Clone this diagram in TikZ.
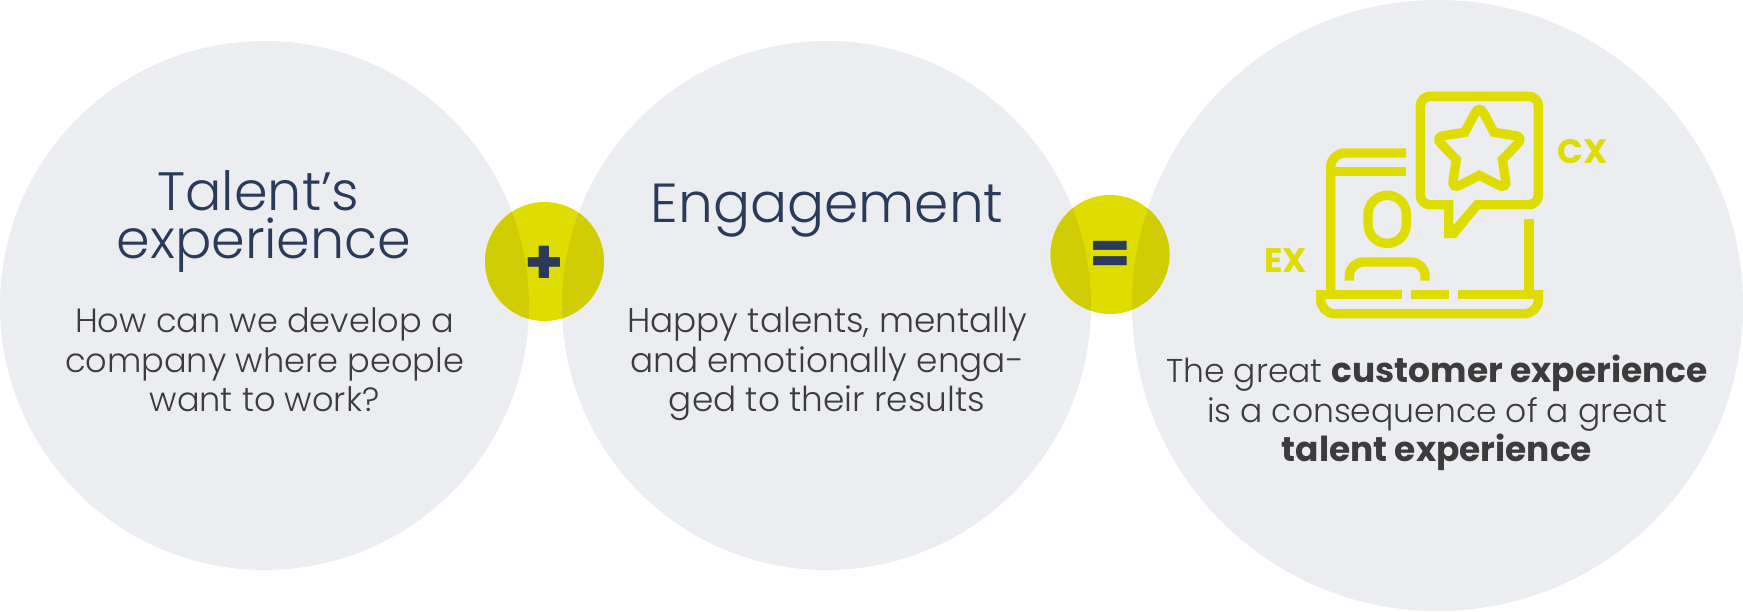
\documentclass[tikz,border=0pt]{standalone}
\usepackage{fontspec}
\setmainfont{Poppins}[UprightFont=* Light,BoldFont=* Bold]
\newfontfamily\boldface{Poppins}[UprightFont=* Bold]
\definecolor{discgray}{HTML}{EBEDF1}
\definecolor{lime}{HTML}{DFDD00}
\definecolor{limedark}{HTML}{D0CD05}
\definecolor{navy}{HTML}{2A3A5A}
\definecolor{bodygray}{HTML}{3C3C3C}
\newcommand{\strongtext}[1]{{\bfseries\fontsize{17.2}{19.6}\selectfont #1}}
\tikzset{
  disc/.style={circle,fill=discgray,inner sep=0pt,minimum size=#1},
  heading/.style={text=navy,align=center,inner sep=0pt,anchor=base,font=\fontsize{#1}{23.67}\selectfont},
  bodytext/.style={text=bodygray,align=center,inner sep=0pt,anchor=base,font=\fontsize{#1}{19.8}\selectfont},
  tag/.style={text=lime,inner sep=0pt,font=\boldface\fontsize{17}{17}\selectfont},
  sign/.style={text=navy,inner sep=0pt,font=\boldface\fontsize{#1}{#1}\selectfont},
  iconline/.style={draw=lime,line width=4.67pt,line cap=butt,line join=miter},
}
\begin{document}
\begin{tikzpicture}[x=0.5pt,y=-0.5pt]
\useasboundingbox (0,0) rectangle (1743,611);
\node[disc=264.5pt] (left) at (264.5,305.5) {};
\node[disc=264.5pt] (mid) at (826.5,305.5) {};
\node[disc=305.5pt] (right) at (1437.5,305.5) {};
% joining discs
\fill[lime] (544.5,261.5) circle (29.75pt);
\fill[lime] (1110,254.5) circle (29.75pt);
\begin{scope}
  \clip (544.5,261.5) circle (29.75pt);
  \fill[limedark] (264.5,305.5) circle (132.25pt);
  \fill[limedark] (826.5,305.5) circle (132.25pt);
\end{scope}
\begin{scope}
  \clip (1110,254.5) circle (29.75pt);
  \fill[limedark] (826.5,305.5) circle (132.25pt);
  \fill[limedark] (1437.5,305.5) circle (152.75pt);
\end{scope}
\node[sign=31.6] (plus) at (544.5,265) {+};
\node[sign=30] (equals) at (1110,258) {=};
% texts
\node[heading=27] (t1) at (264,258.3) {Talent’s\hspace*{5.6pt}\\experience};
\node[heading=27.5] (t2) at (827,222.3) {Engagement};
\node[bodytext=16.8] (b1) at (264.5,411.7) {How can we develop a\\company where people\\want to work?};
\node[bodytext=17.15] (b2) at (827,411.7) {Happy talents, mentally\\and emotionally enga-\\ged to their results};
\node[bodytext=16.5] (b3) at (1437,461.7) {The great \strongtext{customer experience}\\is a consequence of a great\\\strongtext{talent experience}};
\node[tag] (ex) at (1285.5,260.5) {EX};
\node[tag] (cx) at (1583,151.5) {CX};
% icon (units: zoomed reference pixels)
\begin{scope}[shift={(1240,70)},x=0.16667pt,y=-0.16667pt]
  \fill[lime,even odd rule]
    (612,504) -- (612,418) [rounded corners=7pt] -- (527,418) -- (527,65) -- (909,65) -- (909,418) [sharp corners] -- (718,418) -- (648,504) -- cycle
    (640,466) -- (640,390) [rounded corners=2.5pt] -- (555,390) -- (555,93) -- (881,93) -- (881,390) [sharp corners] -- (705,390) -- cycle;
  \draw[iconline] (762,187) [rounded corners=4.4pt] -- (852,201) [sharp corners] -- (787,269) [rounded corners=4.4pt] -- (801,358) [sharp corners] -- (718,316) [rounded corners=4.4pt] -- (635,358) [sharp corners] -- (649,269) [rounded corners=4.4pt] -- (584,201) [sharp corners] -- (674,187) [rounded corners=4.4pt] -- (718,105) [sharp corners] -- cycle;
  \draw[iconline,rounded corners=7pt] (498,249) -- (272,249) -- (272,660);
  \draw[iconline] (498,305) -- (272,305);
  \draw[iconline] (867,447) -- (867,660);
  \draw[iconline] (228,674) -- (485,674);
  \draw[iconline] (512,674) -- (627,674);
  \draw[iconline] (654,674) -- (909,674);
  \draw[iconline,rounded corners=7pt] (242,660) -- (242,731) -- (895,731) -- (895,660);
  \draw[iconline,rounded corners=9.5pt] (384,376) rectangle (499,520);
  \draw[iconline,rounded corners=7pt] (328,632) -- (328,576) -- (555,576) -- (555,632);
\end{scope}
\end{tikzpicture}
\end{document}
